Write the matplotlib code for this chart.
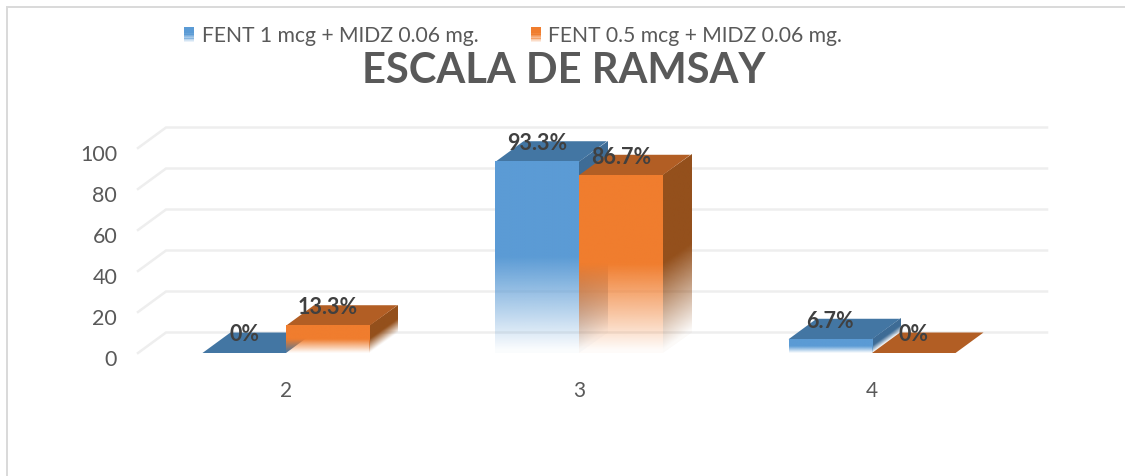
import numpy as np
import matplotlib
matplotlib.use("Agg")
import matplotlib.pyplot as plt
from matplotlib.legend_handler import HandlerBase
from matplotlib.lines import Line2D
from matplotlib.patches import Rectangle, Polygon
from matplotlib.transforms import ScaledTranslation, Affine2D
from matplotlib.colors import to_rgb

categories = ["2", "3", "4"]
series_names = ["FENT 1 mcg + MIDZ 0.06 mg.", "FENT 0.5 mcg + MIDZ 0.06 mg."]
fent_1 = [0, 93.3, 6.7]
fent_05 = [13.3, 86.7, 0]
labels_1 = ["0%", "93.3%", "6.7%"]
labels_05 = ["13.3%", "86.7%", "0%"]
yticks = [0, 20, 40, 60, 80, 100]
title = "ESCALA DE RAMSAY"

W, H = 1125, 476
plt.rcParams["font.family"] = ["Lato", "DejaVu Sans"]
fig = plt.figure(figsize=(W / 100, H / 100), dpi=100)

# outer frame: only the top and left edges are inside the picture
fig.add_artist(Line2D([7 / W, 7 / W, 1], [0, 1 - 7 / H, 1 - 7 / H], transform=fig.transFigure,
                      color="#d9d9d9", lw=1.4, solid_joinstyle="miter"))

L, R, B, T = 138, 1020, 353, 148
ax = fig.add_axes([L / W, 1 - B / H, (R - L) / W, (B - T) / H])
ax.patch.set_alpha(0)
for s in ax.spines.values():
    s.set_visible(False)
XLIM = (1.495, 4.505)
YLIM = (0, 100)
ax.set_xlim(*XLIM)
ax.set_ylim(*YLIM)

DX, DY = 28 / 293, 10.0
BW = 83.5 / 293
x_pos = np.arange(len(categories)) + 2
x0, x1 = XLIM

# wall gridlines
for v in yticks:
    ax.plot([x0, x0 + DX, x1 + DX - 1 / 293], [v, v + DY, v + DY], color="#eeeeee", lw=1.8,
            clip_on=False, zorder=1, solid_joinstyle="miter")

FRONT = ["#5B9BD5", "#F07D2E"]
TOP = ["#4376A3", "#B25E24"]
SIDE = ["#3E6C96", "#94501C"]


def gradient(color, n=128):
    """RGBA column, bottom row first: fades out over the lower half."""
    C = np.zeros((n, 1, 4))
    C[:, :, :3] = to_rgb(color)
    C[:, 0, 3] = np.clip(np.linspace(0, 1, n) / 0.5, 0.03, 1.0)
    return C


def face(xa, xb, val, slope, color, z):
    """Bar face from the floor to val; slope skews it for the depth side."""
    skew = Affine2D(np.array([[1, 0, 0], [slope, 1, -xa * slope], [0, 0, 1]]))
    ax.imshow(gradient(color), extent=[xa, xb, 0, val], origin="lower", aspect="auto",
              interpolation="bilinear", zorder=z, clip_on=False, transform=skew + ax.transData)


def bar3d(xl, val, i, z):
    xr = xl + BW
    if val > 0:
        face(xr, xr + DX, val, DY / DX, SIDE[i], z)
    ax.add_patch(Polygon([(xl, val), (xr, val), (xr + DX, val + DY), (xl + DX, val + DY)],
                         closed=True, fc=TOP[i], ec="none", zorder=z + 0.1, clip_on=False))
    if val > 0:
        face(xl, xr, val, 0, FRONT[i], z + 0.2)


for k, x in enumerate(x_pos):
    bar3d(x - BW, fent_1[k], 0, 2 + k)
    bar3d(x, fent_05[k], 1, 2.5 + k)

ax.set_xlim(*XLIM)
ax.set_ylim(*YLIM)
ax.set_aspect("auto")

for k, x in enumerate(x_pos):
    ax.text(x - BW / 2, fent_1[k] + DY - 1.2, labels_1[k], ha="center", va="center",
            fontsize=15.5, fontweight="bold", color="#404040", zorder=10, clip_on=False)
    ax.text(x + BW / 2, fent_05[k] + DY - 1.2, labels_05[k], ha="center", va="center",
            fontsize=15.5, fontweight="bold", color="#404040", zorder=10, clip_on=False)

ax.set_xticks(x_pos, categories)
ax.set_yticks(yticks)
ax.tick_params(axis="x", length=0, pad=20, labelsize=15, labelcolor="#595959")
ax.tick_params(axis="y", length=0, pad=15, labelsize=15.5, labelcolor="#595959")
off = ScaledTranslation(0, -5 / 100, fig.dpi_scale_trans)
for lab in ax.get_yticklabels():
    lab.set_transform(lab.get_transform() + off)

fig.text(564 / W, 1 - 71 / H, title, ha="center", va="center", fontsize=30,
         fontweight="bold", color="#595959")


class GradHandler(HandlerBase):
    def __init__(self, color):
        super().__init__()
        self.color = color

    def create_artists(self, legend, orig, xd, yd, width, height, fontsize, trans):
        n = 12
        out = []
        for j in range(n):
            a = min(1.0, (n - j) / n * 1.6)
            out.append(Rectangle((-xd, -yd + (n - 1 - j) * height / n), width, height / n + 0.2,
                                 fc=self.color, ec="none", alpha=a, transform=trans))
        return out


h1 = Rectangle((0, 0), 1, 1, label=series_names[0])
h2 = Rectangle((0, 0), 1, 1, label=series_names[1])
fig.legend(handles=[h1, h2], handler_map={h1: GradHandler(FRONT[0]), h2: GradHandler(FRONT[1])},
           loc="center left", bbox_to_anchor=(184 / W, 1 - 36 / H), ncols=2, frameon=False,
           fontsize=15.2, labelcolor="#595959", handlelength=0.48, handleheight=0.75,
           handletextpad=0.35, columnspacing=2.5, borderpad=0, borderaxespad=0)

fig.savefig("out.png", dpi=100)
